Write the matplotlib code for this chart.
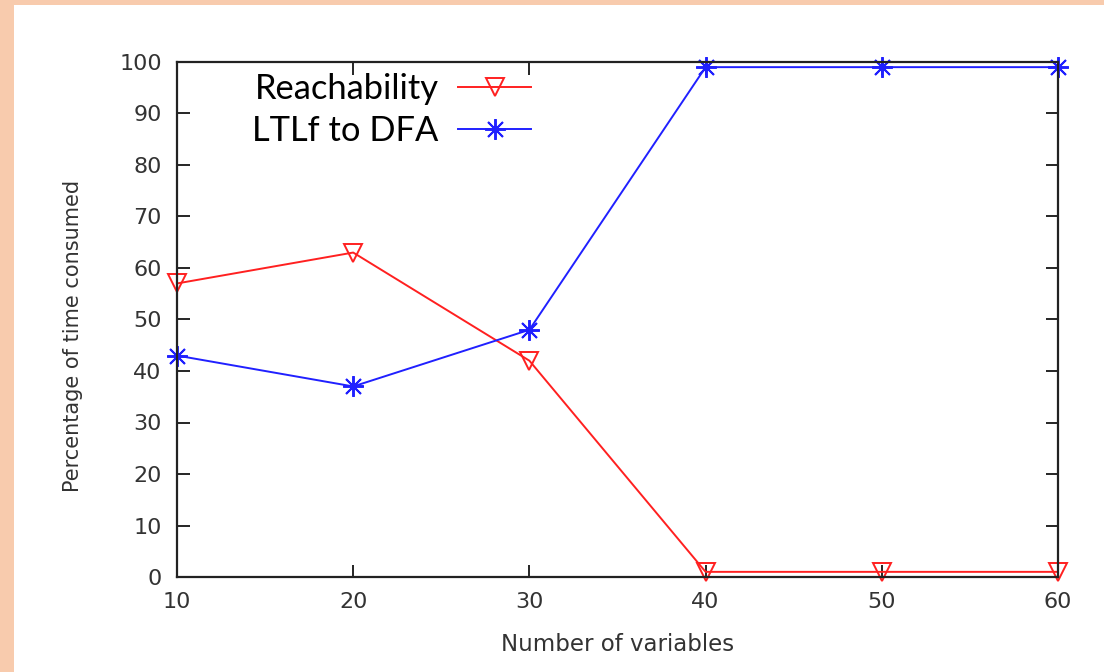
import numpy as np
import matplotlib
matplotlib.use('Agg')
import matplotlib.pyplot as plt
from matplotlib.patches import Rectangle

# data
num_vars = [10, 20, 30, 40, 50, 60]
reachability = [57, 63, 42, 1, 1, 1]
ltlf_to_dfa = [43, 37, 48, 99, 99, 99]

W, H = 1104, 672
fig = plt.figure(figsize=(W/100, H/100), dpi=100)
fig.patch.set_facecolor('#F8CBAD')
# white card inside the peach border
fig.patches.append(Rectangle((14/W, 0), 1 - 14/W, 1 - 5/H, transform=fig.transFigure,
                             facecolor='white', edgecolor='none', zorder=-10))

ax = fig.add_axes([177/W, 95/H, (1058-177)/W, (577-62)/H])
ax.set_facecolor('white')

ax.plot(num_vars, reachability, color='#ff2020', lw=1.4, marker='v', ms=13,
        mfc='none', mec='#ff2020', mew=1.4, label='Reachability', clip_on=False)
ax.plot(num_vars, ltlf_to_dfa, color='#2020ff', lw=1.4, marker=(8, 2, 0), ms=15,
        mec='#2020ff', mew=1.4, label='LTLf to DFA', clip_on=False)

ax.set_xlim(10, 60)
ax.set_ylim(0, 100)
ax.set_xticks(np.arange(10, 61, 10))
ax.set_yticks(np.arange(0, 101, 10))
ax.tick_params(direction='in', length=9, width=1.2, top=True, right=True,
               labelsize=16, labelcolor='#333333', pad=11)
for s in ax.spines.values():
    s.set_linewidth(1.6)
    s.set_color('#222222')

ax.set_xlabel('Number of variables', fontsize=16.5, color='#333333')
ax.set_ylabel('Percentage of time consumed', fontsize=15, color='#333333')
ax.xaxis.set_label_coords(0.5, -0.109)
ax.yaxis.set_label_coords(-0.1067, 0.468)

leg = ax.legend(loc='upper left', bbox_to_anchor=(0.050, 1.039), frameon=False,
                markerfirst=False, handlelength=2.12, handletextpad=0.58,
                labelspacing=0.28, prop={'family': 'Lato', 'size': 24.8})

fig.savefig('out.png', dpi=100, facecolor=fig.get_facecolor())
